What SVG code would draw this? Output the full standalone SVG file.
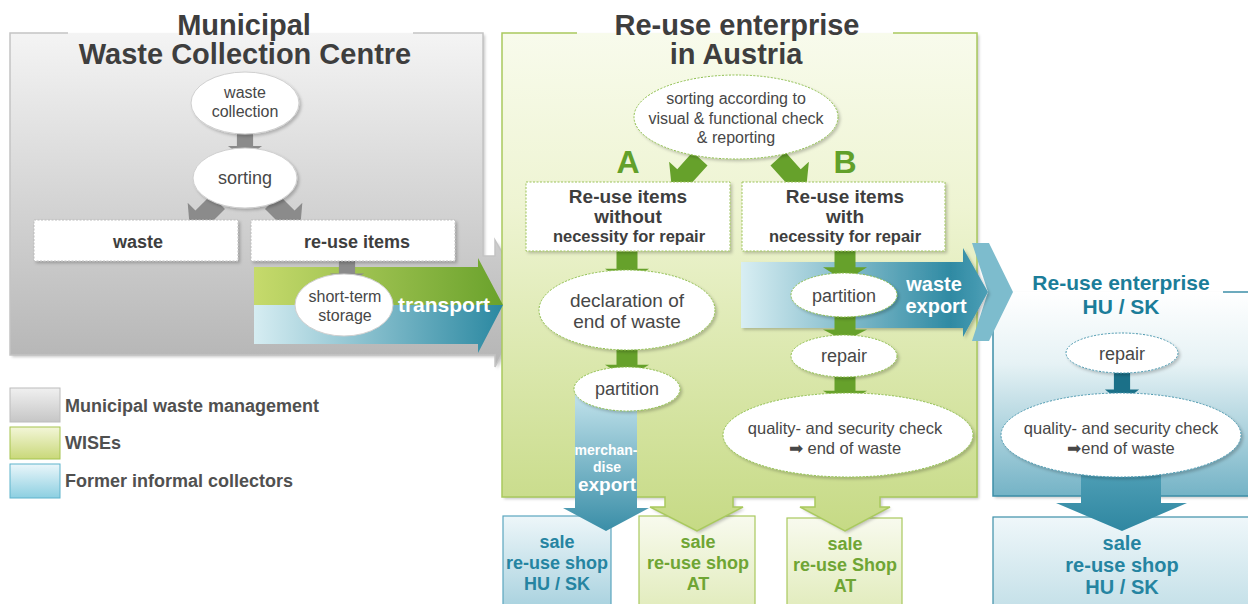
<svg xmlns="http://www.w3.org/2000/svg" width="1248" height="604" viewBox="0 0 1248 604">
<defs>
<style>
text{font-family:"Liberation Sans",Arial,sans-serif}
.title{font-size:29px;font-weight:bold;fill:#3e3e3e;text-anchor:middle}
.rtitle{font-size:21px;font-weight:bold;fill:#1b7d99;text-anchor:middle}
.nt{fill:#474747;text-anchor:middle}
.bt{font-weight:bold;fill:#3e3e3e;text-anchor:middle}
.wt{font-weight:bold;fill:#fff;text-anchor:middle}
.gt{font-weight:bold;fill:#6fa534;text-anchor:middle;font-size:18px}
.tt{font-weight:bold;fill:#2584a1;text-anchor:middle}
.leg{font-weight:bold;fill:#505050;font-size:18px}
.garr{fill:#8b8b8b}
.grarr{fill:#66a12b}
.tarr{fill:#1b7088}
.eg{fill:#fff;stroke:#cfcfcf;stroke-width:1}
.egr{fill:#fff;stroke:#8cbd4c;stroke-width:1;stroke-dasharray:2 1.5}
.eb{fill:#fff;stroke:#4a97ae;stroke-width:1;stroke-dasharray:2 1.5}
.bxg{fill:#fff;stroke:#bdbdbd;stroke-width:1;stroke-dasharray:2 1.5}
.bxgr{fill:#fff;stroke:#9cc35a;stroke-width:1;stroke-dasharray:2 1.5}
.sh{filter:url(#sh)}
</style>
<filter id="sh" x="-10%" y="-10%" width="125%" height="130%">
<feDropShadow dx="2" dy="2" stdDeviation="1.8" flood-color="#000" flood-opacity="0.22"/>
</filter>
<linearGradient id="gGray" x1="0" y1="0" x2="0" y2="1"><stop offset="0" stop-color="#f4f4f4"/><stop offset="1" stop-color="#b5b5b5"/></linearGradient>
<linearGradient id="gGreen" x1="0" y1="0" x2="0" y2="1"><stop offset="0" stop-color="#f8fbec"/><stop offset="0.35" stop-color="#eef4d2"/><stop offset="1" stop-color="#c6da85"/></linearGradient>
<linearGradient id="gBluePanel" x1="0" y1="0" x2="0" y2="1"><stop offset="0" stop-color="#ffffff"/><stop offset="0.35" stop-color="#e6f2f5"/><stop offset="1" stop-color="#74b3c6"/></linearGradient>
<linearGradient id="gTrG" x1="0" y1="0" x2="1" y2="0"><stop offset="0" stop-color="#c6da6c"/><stop offset="1" stop-color="#6aa22c"/></linearGradient>
<linearGradient id="gTrB" x1="0" y1="0" x2="1" y2="0"><stop offset="0" stop-color="#d6edf2"/><stop offset="1" stop-color="#2a88a1"/></linearGradient>
<linearGradient id="gWx" x1="0" y1="0" x2="1" y2="0"><stop offset="0" stop-color="#d8eef3"/><stop offset="0.85" stop-color="#2f8aa3"/><stop offset="1" stop-color="#4d9fb6"/></linearGradient>
<linearGradient id="gMx" x1="0" y1="0" x2="0" y2="1"><stop offset="0" stop-color="#c3e3ec"/><stop offset="1" stop-color="#3a8ea7"/></linearGradient>
<linearGradient id="gBig" x1="0" y1="0" x2="0" y2="1"><stop offset="0" stop-color="#4f9fb6"/><stop offset="1" stop-color="#2f87a1"/></linearGradient>
<linearGradient id="gBoxB" x1="0" y1="0" x2="0" y2="1"><stop offset="0" stop-color="#edf6f9"/><stop offset="1" stop-color="#a9d2df"/></linearGradient>
<linearGradient id="gBoxG" x1="0" y1="0" x2="0" y2="1"><stop offset="0" stop-color="#f8faee"/><stop offset="1" stop-color="#e2ecbd"/></linearGradient>
<linearGradient id="gBoxR" x1="0" y1="0" x2="0" y2="1"><stop offset="0" stop-color="#eff7fa"/><stop offset="1" stop-color="#c4e0e8"/></linearGradient>
<linearGradient id="lgGray" x1="0" y1="0" x2="0" y2="1"><stop offset="0" stop-color="#f0f0f0"/><stop offset="1" stop-color="#c6c6c6"/></linearGradient>
<linearGradient id="lgGreen" x1="0" y1="0" x2="0" y2="1"><stop offset="0" stop-color="#f3f6d8"/><stop offset="1" stop-color="#c9d879"/></linearGradient>
<linearGradient id="lgBlue" x1="0" y1="0" x2="0" y2="1"><stop offset="0" stop-color="#eaf6fa"/><stop offset="1" stop-color="#8ccfe1"/></linearGradient>
<path id="darr" d="M-9,-36 H9 V-16 H19 L0,0 L-19,-16 H-9 Z"/>
<path id="darrG" d="M-10,-42 H10 V-19 H21 L0,0 L-21,-19 H-10 Z"/>
</defs>

<!-- bottom sale boxes (drawn first so panel arrows overlap them) -->
<g id="shop-husk-1">
<rect x="503" y="516" width="108" height="92" fill="url(#gBoxB)" stroke="#5aa6bf" stroke-width="1.2"/>
<text class="tt" font-size="18" x="557" y="548">sale</text>
<text class="tt" font-size="18" x="557" y="569">re-use shop</text>
<text class="tt" font-size="18" x="557" y="590">HU / SK</text>
</g>
<g id="shop-at-1">
<rect x="639" y="516" width="116" height="92" fill="url(#gBoxG)" stroke="#a9c95e" stroke-width="1.2"/>
<text class="gt" x="698" y="548">sale</text>
<text class="gt" x="698" y="569">re-use shop</text>
<text class="gt" x="698" y="590">AT</text>
</g>
<g id="shop-at-2">
<rect x="787" y="518" width="115" height="90" fill="url(#gBoxG)" stroke="#a9c95e" stroke-width="1.2"/>
<text class="gt" x="845" y="550">sale</text>
<text class="gt" x="845" y="571">re-use Shop</text>
<text class="gt" x="845" y="592">AT</text>
</g>
<g id="shop-husk-2">
<rect x="993" y="517" width="260" height="92" fill="url(#gBoxR)" stroke="#3d8fa8" stroke-width="1.2"/>
<text class="tt" font-size="20" x="1122" y="550">sale</text>
<text class="tt" font-size="20" x="1122" y="572">re-use shop</text>
<text class="tt" font-size="20" x="1122" y="594">HU / SK</text>
</g>

<!-- panels -->
<g id="panel-municipal">
<path class="sh" d="M10,33 H483 V256 H495 V240 L530,302 L495,367 V355 H10 Z" fill="url(#gGray)"/>
<path d="M68,33 H10 V355 H495 V367 L530,302 L495,240 V256 H483 V33 H413" fill="none" stroke="#c4c4c4" stroke-width="1.5"/>
<text class="title" x="244" y="35">Municipal</text>
<text class="title" x="245" y="64">Waste Collection Centre</text>
</g>
<g id="panel-austria">
<path class="sh" d="M502,33 H977 V497 H880 V507 H890 L845,531 L800,507 H815 V497 H733 V507 H743 L697,531 L650,507 H665 V497 H502 Z" fill="url(#gGreen)"/>
<path d="M577,33 H502 V497 H665 V507 H650 L697,531 L743,507 H733 V497 H815 V507 H800 L845,531 L890,507 H880 V497 H977 V33 H893" fill="none" stroke="#a9c95e" stroke-width="1.5"/>
<text class="title" x="737" y="35">Re-use enterprise</text>
<text class="title" x="736" y="64">in Austria</text>
<text x="628" y="173" font-size="32" font-weight="bold" fill="#62a02a" text-anchor="middle">A</text>
<text x="845" y="173" font-size="32" font-weight="bold" fill="#62a02a" text-anchor="middle">B</text>
</g>
<g id="panel-husk">
<rect class="sh" x="993" y="292" width="258" height="204" fill="url(#gBluePanel)"/>
<path d="M1223,292 H1250 M993,300 V496 H1250" fill="none" stroke="#3d8fa8" stroke-width="1.5"/>
<path d="M972,243 H989 L1013,292 L989,341 H972 L988,292 Z" fill="#7dbccd"/>
<text class="rtitle" x="1121" y="290">Re-use enterprise</text>
<text class="rtitle" x="1121" y="314">HU / SK</text>
</g>

<!-- connectors -->
<g id="connectors">
<g id="transport">
<path class="sh" d="M254,267 H478 V258 L503,305 L478,353 V344 H254 Z" fill="none"/>
<path d="M254,267 H478 V258 L503,305 H254 Z" fill="url(#gTrG)"/>
<path d="M254,305 H503 L478,353 V344 H254 Z" fill="url(#gTrB)"/>
<text class="wt" font-size="21" x="444" y="312">transport</text>
</g>
<g id="waste-export">
<path class="sh" d="M741,262 H963 V248 L988,292 L963,337 V328 H741 Z" fill="url(#gWx)"/>
<text class="wt" font-size="20" x="934" y="291">waste</text>
<text class="wt" font-size="20" x="936" y="313">export</text>
</g>
<g id="merch-export">
<path d="M575,392 H637 V508 H649 L606,531 L563,508 H575 Z" fill="url(#gMx)"/>
<text class="wt" font-size="14" x="606" y="455">merchan-</text>
<text class="wt" font-size="14" x="607" y="472">dise</text>
<text class="wt" font-size="19" x="607" y="491">export</text>
</g>
<use href="#darr" class="garr" transform="translate(245,158) scale(0.9,0.75)"/>
<use href="#darr" class="garr" transform="translate(190,230) rotate(45) scale(1.1)"/>
<use href="#darr" class="garr" transform="translate(300,230) rotate(-45) scale(1.1)"/>
<use href="#darr" class="garr" transform="translate(347,284) scale(0.9,0.65)"/>
<use href="#darrG" class="grarr" transform="translate(672,190) rotate(42)"/>
<use href="#darrG" class="grarr" transform="translate(806,190) rotate(-42)"/>
<use href="#darrG" class="grarr" transform="translate(627,283) scale(1.05,0.75)"/>
<use href="#darrG" class="grarr" transform="translate(627,378) scale(1.05,0.7)"/>
<use href="#darrG" class="grarr" transform="translate(845,281) scale(1.05,0.72)"/>
<use href="#darrG" class="grarr" transform="translate(845,341) scale(1.05,0.6)"/>
<use href="#darrG" class="grarr" transform="translate(845,404) scale(1.05,0.7)"/>
<use href="#darr" class="tarr" transform="translate(1122,403) scale(0.9,0.85)"/>
<path d="M1081,470 H1161 V503 H1187 L1122,531 L1056,503 H1081 Z" fill="url(#gBig)"/>
</g>

<!-- nodes: municipal -->
<g id="n-waste-collection">
<ellipse class="eg sh" cx="245" cy="103" rx="54" ry="31"/>
<text class="nt" font-size="16" x="245" y="98">waste</text>
<text class="nt" font-size="16" x="245" y="117">collection</text>
</g>
<g id="n-sorting">
<ellipse class="eg sh" cx="245" cy="178" rx="52" ry="30"/>
<text class="nt" font-size="18" x="245" y="184">sorting</text>
</g>
<g id="n-waste">
<rect class="bxg sh" x="34" y="220" width="204" height="41"/>
<text class="bt" font-size="18" x="138" y="248">waste</text>
</g>
<g id="n-reuse-items">
<rect class="bxg sh" x="251" y="220" width="204" height="41"/>
<text class="bt" font-size="18" x="357" y="248">re-use items</text>
</g>
<g id="n-storage">
<ellipse class="eg" cx="344" cy="305" rx="49" ry="31" stroke="#8cbd4c"/>
<text class="nt" font-size="16" x="345" y="302">short-term</text>
<text class="nt" font-size="16" x="345" y="321">storage</text>
</g>

<!-- nodes: austria -->
<g id="n-sorting-check">
<ellipse class="egr sh" cx="736" cy="117" rx="102" ry="42"/>
<text class="nt" font-size="16" x="736" y="104">sorting according to</text>
<text class="nt" font-size="16" x="736" y="124">visual &amp; functional check</text>
<text class="nt" font-size="16" x="736" y="143">&amp; reporting</text>
</g>
<g id="n-box-a">
<rect class="bxgr sh" x="526" y="182" width="204" height="69"/>
<text class="bt" font-size="19" x="628" y="203">Re-use items</text>
<text class="bt" font-size="19" x="628" y="223">without</text>
<text class="bt" font-size="16.5" x="629" y="242">necessity for repair</text>
</g>
<g id="n-box-b">
<rect class="bxgr sh" x="742" y="182" width="203" height="69"/>
<text class="bt" font-size="19" x="845" y="203">Re-use items</text>
<text class="bt" font-size="19" x="845" y="223">with</text>
<text class="bt" font-size="16.5" x="845" y="242">necessity for repair</text>
</g>
<g id="n-declaration">
<ellipse class="egr sh" cx="627" cy="310" rx="88" ry="40"/>
<text class="nt" font-size="19" x="627" y="307">declaration of</text>
<text class="nt" font-size="19" x="627" y="328">end of waste</text>
</g>
<g id="n-partition-a">
<ellipse class="egr sh" cx="627" cy="389" rx="53" ry="22"/>
<text class="nt" font-size="18" x="627" y="395">partition</text>
</g>
<g id="n-partition-b">
<ellipse class="egr sh" cx="844" cy="295" rx="53" ry="22"/>
<text class="nt" font-size="18" x="844" y="302">partition</text>
</g>
<g id="n-repair-b">
<ellipse class="egr sh" cx="844" cy="356" rx="53" ry="21"/>
<text class="nt" font-size="18" x="844" y="362">repair</text>
</g>
<g id="n-quality-b">
<ellipse class="egr sh" cx="848" cy="435" rx="125" ry="42"/>
<text class="nt" font-size="16.5" x="845" y="434">quality- and security check</text>
<text class="nt" font-size="16.5" x="845" y="454">➡ end of waste</text>
</g>

<!-- nodes: HU/SK -->
<g id="n-repair-r">
<ellipse class="eb sh" cx="1122" cy="353" rx="56" ry="20"/>
<text class="nt" font-size="18" x="1122" y="360">repair</text>
</g>
<g id="n-quality-r">
<ellipse class="eb sh" cx="1121" cy="435" rx="120" ry="42"/>
<text class="nt" font-size="16.5" x="1121" y="434">quality- and security check</text>
<text class="nt" font-size="16.5" x="1121" y="454">➡end of waste</text>
</g>

<!-- legend -->
<g id="legend">
<rect x="10" y="388" width="50" height="34" fill="url(#lgGray)" stroke="#bcbcbc"/>
<rect x="10" y="427" width="50" height="32" fill="url(#lgGreen)" stroke="#a6c44f"/>
<rect x="10" y="464" width="50" height="34" fill="url(#lgBlue)" stroke="#5fb3cc"/>
<text class="leg" x="65" y="412">Municipal waste management</text>
<text class="leg" x="65" y="449">WISEs</text>
<text class="leg" x="65" y="487">Former informal collectors</text>
</g>
</svg>
